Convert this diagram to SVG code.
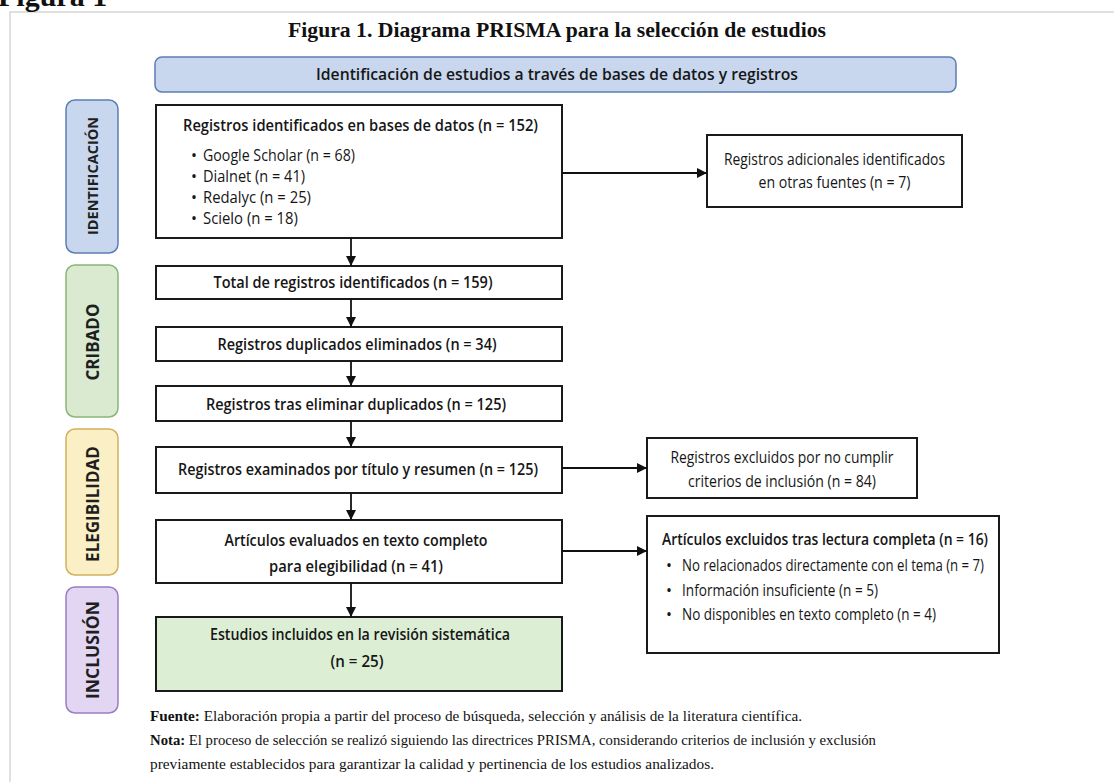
<svg xmlns="http://www.w3.org/2000/svg" width="1114" height="782" viewBox="0 0 1114 782">
  <defs>
    <marker id="arrow" viewBox="0 0 10 10" refX="10" refY="5" markerWidth="10" markerHeight="10" markerUnits="userSpaceOnUse" orient="auto">
      <path d="M0,0 L10,5 L0,10 z" fill="#111"/>
    </marker>
    <style>
      .box { fill: #ffffff; stroke: #1a1a1a; stroke-width: 2; }
      .final { fill: #dcefd4; stroke: #1a1a1a; stroke-width: 2; }
      .t { font-family: "Open Sans", "Noto Sans", "DejaVu Sans", sans-serif; font-size: 16px; fill: #161616; }
      .b { font-weight: 600; }
      .r { font-size: 15.8px; font-weight: 400; }
      .c { text-anchor: middle; }
      .phase { font-family: "Open Sans", "Noto Sans", "DejaVu Sans", sans-serif; font-weight: 700; font-size: 17px; fill: #1f1f1f; text-anchor: middle; dominant-baseline: central; }
      .conn { stroke: #111; stroke-width: 1.8; fill: none; marker-end: url(#arrow); }
      .serif { font-family: "Liberation Serif", "Times New Roman", serif; fill: #111; }
      .foot { font-size: 14.5px; }
    </style>
  </defs>
  <rect width="1114" height="782" fill="#ffffff"/>
  <path d="M10,782 V12 H1114" fill="none" stroke="#d6d6d6" stroke-width="1.5"/>
  <text class="serif" x="-2" y="6" font-size="30" font-weight="700">Figura 1</text>
  <text class="serif" x="557" y="37" font-size="21.7" font-weight="700" text-anchor="middle">Figura 1. Diagrama PRISMA para la selección de estudios</text>

  <g id="header">
    <rect x="155" y="57" width="801" height="35" rx="7" fill="#c8d7ee" stroke="#5b7db5" stroke-width="1.5"/>
    <text class="t b c" x="557" y="80" textLength="482" lengthAdjust="spacingAndGlyphs">Identificación de estudios a través de bases de datos y registros</text>
  </g>

  <g id="phase-identificacion">
    <rect x="66" y="100" width="52" height="153" rx="9" fill="#c8d7ee" stroke="#5b7db5" stroke-width="1.5"/>
    <text class="phase" transform="translate(92,176) rotate(-90)" style="font-size:14.5px">IDENTIFICACIÓN</text>
  </g>
  <g id="phase-cribado">
    <rect x="66" y="265" width="52" height="152" rx="9" fill="#d9ead1" stroke="#8ab578" stroke-width="1.5"/>
    <text class="phase" transform="translate(92,342) rotate(-90)">CRIBADO</text>
  </g>
  <g id="phase-elegibilidad">
    <rect x="66" y="429" width="52" height="146" rx="9" fill="#fbefc6" stroke="#d2b15c" stroke-width="1.5"/>
    <text class="phase" transform="translate(92,504) rotate(-90)">ELEGIBILIDAD</text>
  </g>
  <g id="phase-inclusion">
    <rect x="66" y="587" width="52" height="126" rx="9" fill="#e3d6f2" stroke="#9a7cc5" stroke-width="1.5"/>
    <text class="phase" transform="translate(92,650) rotate(-90)" style="font-size:17.5px">INCLUSIÓN</text>
  </g>

  <g id="n-identificados">
    <rect class="box" x="156" y="105" width="406" height="133"/>
    <text class="t b" x="183" y="131" textLength="355" lengthAdjust="spacingAndGlyphs">Registros identificados en bases de datos (n = 152)</text>
    <text class="t r" x="191" y="161">•</text><text class="t r" x="203" y="161" textLength="152" lengthAdjust="spacingAndGlyphs">Google Scholar (n = 68)</text>
    <text class="t r" x="191" y="182">•</text><text class="t r" x="203" y="182" textLength="102" lengthAdjust="spacingAndGlyphs">Dialnet (n = 41)</text>
    <text class="t r" x="191" y="203">•</text><text class="t r" x="203" y="203" textLength="108" lengthAdjust="spacingAndGlyphs">Redalyc (n = 25)</text>
    <text class="t r" x="191" y="224">•</text><text class="t r" x="203" y="224" textLength="95" lengthAdjust="spacingAndGlyphs">Scielo (n = 18)</text>
  </g>
  <g id="n-adicionales">
    <rect class="box" x="707" y="135" width="255" height="72"/>
    <text class="t r c" x="834.5" y="165" textLength="221" lengthAdjust="spacingAndGlyphs">Registros adicionales identificados</text>
    <text class="t r c" x="834.5" y="188" textLength="152" lengthAdjust="spacingAndGlyphs">en otras fuentes (n = 7)</text>
  </g>
  <g id="n-total">
    <rect class="box" x="156" y="266" width="406" height="33"/>
    <text class="t b c" x="353" y="288" textLength="279" lengthAdjust="spacingAndGlyphs">Total de registros identificados (n = 159)</text>
  </g>
  <g id="n-duplicados">
    <rect class="box" x="156" y="327" width="406" height="34"/>
    <text class="t b c" x="357" y="350" textLength="279" lengthAdjust="spacingAndGlyphs">Registros duplicados eliminados (n = 34)</text>
  </g>
  <g id="n-tras">
    <rect class="box" x="156" y="386" width="406" height="35"/>
    <text class="t b c" x="356" y="410" textLength="300" lengthAdjust="spacingAndGlyphs">Registros tras eliminar duplicados (n = 125)</text>
  </g>
  <g id="n-examinados">
    <rect class="box" x="156" y="447" width="406" height="46"/>
    <text class="t b c" x="358" y="475" textLength="360" lengthAdjust="spacingAndGlyphs">Registros examinados por título y resumen (n = 125)</text>
  </g>
  <g id="n-excluidos">
    <rect class="box" x="647" y="438" width="270" height="60"/>
    <text class="t r c" x="782" y="463" textLength="223" lengthAdjust="spacingAndGlyphs">Registros excluidos por no cumplir</text>
    <text class="t r c" x="782" y="487" textLength="188" lengthAdjust="spacingAndGlyphs">criterios de inclusión (n = 84)</text>
  </g>
  <g id="n-evaluados">
    <rect class="box" x="156" y="520" width="406" height="63"/>
    <text class="t b c" x="356" y="546" textLength="263" lengthAdjust="spacingAndGlyphs">Artículos evaluados en texto completo</text>
    <text class="t b c" x="356" y="572" textLength="174" lengthAdjust="spacingAndGlyphs">para elegibilidad (n = 41)</text>
  </g>
  <g id="n-excluidos-lectura">
    <rect class="box" x="647" y="516" width="352" height="137"/>
    <text class="t b" x="662" y="545" textLength="326" lengthAdjust="spacingAndGlyphs">Artículos excluidos tras lectura completa (n = 16)</text>
    <text class="t r" x="666" y="571">•</text><text class="t r" x="682" y="571" textLength="302" lengthAdjust="spacingAndGlyphs">No relacionados directamente con el tema (n = 7)</text>
    <text class="t r" x="666" y="596">•</text><text class="t r" x="682" y="596" textLength="196" lengthAdjust="spacingAndGlyphs">Información insuficiente (n = 5)</text>
    <text class="t r" x="666" y="620">•</text><text class="t r" x="682" y="620" textLength="254" lengthAdjust="spacingAndGlyphs">No disponibles en texto completo (n = 4)</text>
  </g>
  <g id="n-incluidos">
    <rect class="final" x="156" y="617" width="406" height="74"/>
    <text class="t b c" x="360" y="640" textLength="300" lengthAdjust="spacingAndGlyphs">Estudios incluidos en la revisión sistemática</text>
    <text class="t b c" x="357" y="667" textLength="53" lengthAdjust="spacingAndGlyphs">(n = 25)</text>
  </g>

  <g id="connectors">
    <line class="conn" x1="351" y1="238" x2="351" y2="266"/>
    <line class="conn" x1="351" y1="299" x2="351" y2="327"/>
    <line class="conn" x1="351" y1="361" x2="351" y2="386"/>
    <line class="conn" x1="351" y1="421" x2="351" y2="447"/>
    <line class="conn" x1="351" y1="493" x2="351" y2="520"/>
    <line class="conn" x1="351" y1="583" x2="351" y2="617"/>
    <line class="conn" x1="562" y1="173" x2="707" y2="173"/>
    <line class="conn" x1="562" y1="468" x2="647" y2="468"/>
    <line class="conn" x1="562" y1="551" x2="647" y2="551"/>
  </g>

  <g id="footer">
    <text class="serif foot" x="150" y="721" textLength="652" lengthAdjust="spacingAndGlyphs"><tspan font-weight="700">Fuente:</tspan> Elaboración propia a partir del proceso de búsqueda, selección y análisis de la literatura científica.</text>
    <text class="serif foot" x="150" y="745" textLength="726" lengthAdjust="spacingAndGlyphs"><tspan font-weight="700">Nota:</tspan> El proceso de selección se realizó siguiendo las directrices PRISMA, considerando criterios de inclusión y exclusión</text>
    <text class="serif foot" x="150" y="769" textLength="564" lengthAdjust="spacingAndGlyphs">previamente establecidos para garantizar la calidad y pertinencia de los estudios analizados.</text>
  </g>
</svg>
